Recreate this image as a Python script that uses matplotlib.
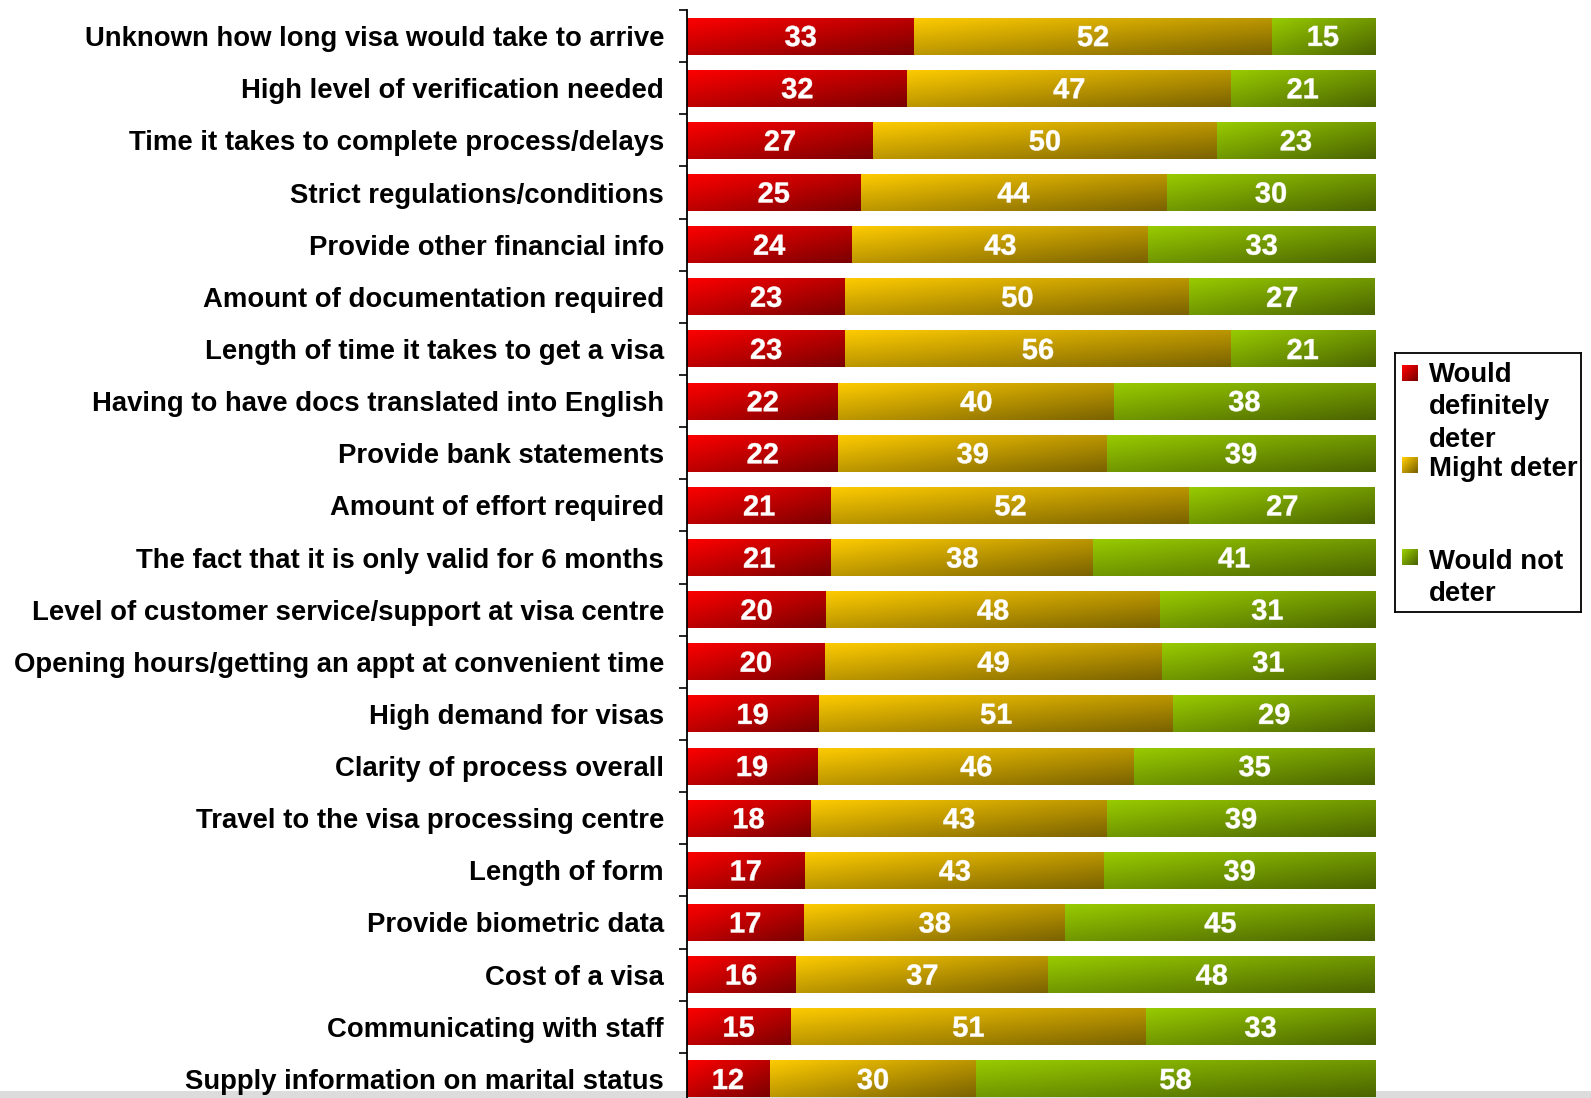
import numpy as np
import matplotlib
matplotlib.use('Agg')
import matplotlib.pyplot as plt
import matplotlib.transforms as mtransforms
from matplotlib.colors import to_rgb
from matplotlib.patches import Rectangle, PathPatch
from matplotlib.textpath import TextPath
from matplotlib.font_manager import FontProperties

# 数据
categories = [
    'Unknown how long visa would take to arrive',
    'High level of verification needed',
    'Time it takes to complete process/delays',
    'Strict regulations/conditions',
    'Provide other financial info',
    'Amount of documentation required',
    'Length of time it takes to get a visa',
    'Having to have docs translated into English',
    'Provide bank statements',
    'Amount of effort required',
    'The fact that it is only valid for 6 months',
    'Level of customer service/support at visa centre',
    'Opening hours/getting an appt at convenient time',
    'High demand for visas',
    'Clarity of process overall',
    'Travel to the visa processing centre',
    'Length of form',
    'Provide biometric data',
    'Cost of a visa',
    'Communicating with staff',
    'Supply information on marital status',
]
definitely = [33, 32, 27, 25, 24, 23, 23, 22, 22, 21, 21, 20, 20, 19, 19, 18, 17, 17, 16, 15, 12]
might = [52, 47, 50, 44, 43, 50, 56, 40, 39, 52, 38, 48, 49, 51, 46, 43, 43, 38, 37, 51, 30]
would_not = [15, 21, 23, 30, 33, 27, 21, 38, 39, 27, 41, 31, 31, 29, 35, 39, 39, 45, 48, 33, 58]
series_names = ['Would\ndefinitely\ndeter', 'Might deter', 'Would not\ndeter']

# 渐变颜色 (左上亮 -> 右下暗)
grads = [('#ff0000', '#7a0000'), ('#ffcc00', '#7a6200'), ('#99cc00', '#4a6400')]


def grad_img(c1, c2, n=40, m=120):
    u = np.linspace(0, 1, m)[None, :]
    v = np.linspace(0, 1, n)[:, None]
    t = (0.5 * u + 0.5 * v)
    a = np.array(to_rgb(c1))
    b = np.array(to_rgb(c2))
    return a + (b - a) * t[..., None]


num_prop = FontProperties(family='Liberation Sans', weight='bold')


def value_label(ax, x, y, s, size_px=29):
    # 数字按字形外框居中
    tp = TextPath((0, 0), s, size=size_px, prop=num_prop)
    ext = tp.get_extents()
    cx = (ext.x0 + ext.x1) / 2
    cy = (ext.y0 + ext.y1) / 2
    tr = (mtransforms.Affine2D().translate(-cx, -cy)
          + mtransforms.ScaledTranslation(x, y, ax.transData))
    ax.add_patch(PathPatch(tp, transform=tr, facecolor='white', edgecolor='white',
                           linewidth=0.3, zorder=4))


W, H = 1591, 1098
fig = plt.figure(figsize=(W / 100, H / 100), dpi=100, facecolor='white')

# 底部灰条
fig.patches.append(Rectangle((0, 0), 1, 7 / H, transform=fig.transFigure,
                             facecolor='#dcdcdc', edgecolor='none', zorder=-1))

ax = fig.add_axes([687 / W, -7 / H, (1375 - 687) / W, 1095 / H])
ax.set_facecolor('none')

n = len(categories)
y = np.arange(n)[::-1]
data = np.array([definitely, might, would_not], dtype=float)
totals = data.sum(axis=0)
pct = data / totals * 100
bar_h = 0.71

left = np.zeros(n)
for k in range(3):
    bars = ax.barh(y, pct[k], left=left, height=bar_h, color=grads[k][0],
                   edgecolor='none', zorder=2)
    img = grad_img(*grads[k])
    for b, val in zip(bars, data[k]):
        x0, y0 = b.get_x(), b.get_y()
        im = ax.imshow(img, extent=[x0, x0 + b.get_width(), y0, y0 + b.get_height()],
                       origin='upper', aspect='auto', interpolation='bilinear', zorder=3)
        im.set_clip_path(b)
        value_label(ax, x0 + b.get_width() / 2, y0 + b.get_height() / 2, f'{int(val)}')
    left = left + pct[k]

ax.set_xlim(0, 100)
ax.set_ylim(-0.5, n - 0.5)
ax.set_yticks(y)
ax.set_yticklabels(categories, fontsize=19.8, fontweight='bold',
                   family=['Liberation Sans', 'DejaVu Sans'])
ax.tick_params(axis='y', which='major', length=0, pad=16.5)
ax.set_yticks(np.arange(-0.5, n, 1.0), minor=True)
ax.tick_params(axis='y', which='minor', length=6, width=1.2, direction='out')
ax.set_xticks([])
for s in ['top', 'right', 'bottom']:
    ax.spines[s].set_visible(False)
ax.spines['left'].set_linewidth(1.3)
ax.spines['left'].set_zorder(5)

# 图例 (手工)
lax = fig.add_axes([1395 / W, 1 - 612 / H, (1581 - 1395) / W, (612 - 353) / H])
lax.set_xticks([])
lax.set_yticks([])
for s in lax.spines.values():
    s.set_linewidth(1.3)
    s.set_color('black')
sq_y = [12, 104, 196]
txt_y = [9, 116, 196]
txt_va = ['top', 'center', 'top']
for k in range(3):
    lax.imshow(grad_img(*grads[k], n=10, m=10), extent=[7, 23, sq_y[k] + 16, sq_y[k]],
               origin='upper', aspect='auto', interpolation='bilinear')
    lax.text(34, txt_y[k], series_names[k], fontsize=19.8, fontweight='bold',
             va=txt_va[k], ha='left', linespacing=1.32,
             family=['Liberation Sans', 'DejaVu Sans'])
lax.set_xlim(0, 186)
lax.set_ylim(259, 0)

fig.savefig('out.png', dpi=100)
